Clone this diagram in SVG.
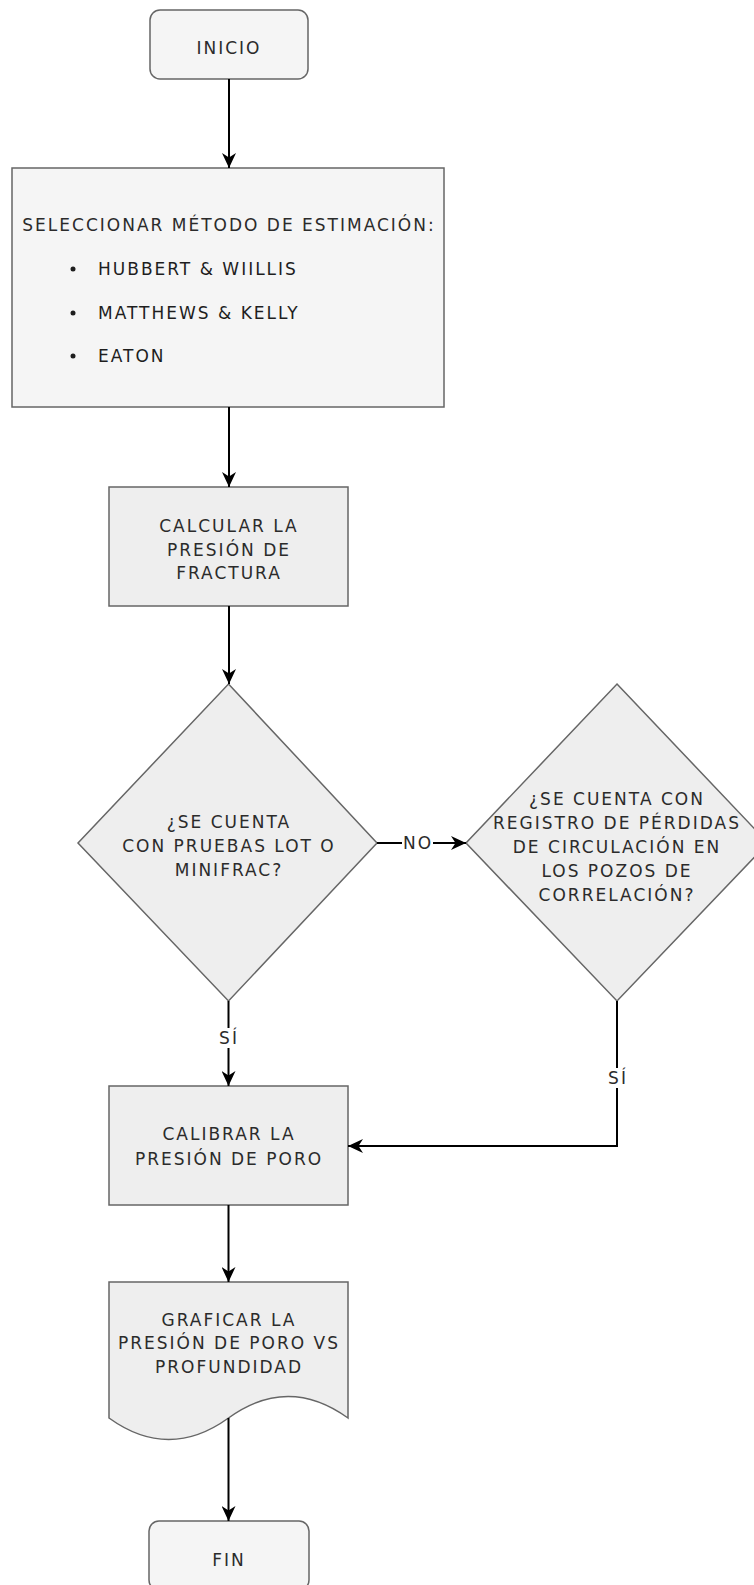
<svg xmlns="http://www.w3.org/2000/svg" width="754" height="1585" viewBox="0 0 754 1585">
<defs>
<marker id="arr" markerUnits="userSpaceOnUse" markerWidth="15" markerHeight="14" refX="15" refY="7" orient="auto">
<path d="M0,0 L15,7 L0,14 L4.5,7 Z" fill="#000"/>
</marker>
<style>
.node{stroke:#666;stroke-width:1.5}
.lt{fill:#f5f5f5}
.dk{fill:#eeeeee}
.t{font-family:"DejaVu Sans",Verdana,sans-serif;font-size:17px;letter-spacing:2px;fill:#2b2b2b;text-anchor:middle}
.tl{font-family:"DejaVu Sans",Verdana,sans-serif;font-size:17px;letter-spacing:2px;fill:#1e1e1e}
.edge{fill:none;stroke:#000;stroke-width:2}
.lbl{fill:#fff;stroke:none}
</style>
</defs>
<rect width="754" height="1585" fill="#fff"/>

<g id="inicio">
<rect class="node lt" x="150" y="10" width="158" height="69" rx="10"/>
<text class="t" x="229" y="54">INICIO</text>
</g>

<g id="seleccionar">
<rect class="node lt" x="12" y="168" width="432" height="239"/>
<text class="t" x="229" y="231">SELECCIONAR MÉTODO DE ESTIMACIÓN:</text>
<circle cx="73" cy="269" r="2.5" fill="#1e1e1e"/>
<text class="tl" x="98" y="275">HUBBERT &amp; WIILLIS</text>
<circle cx="73" cy="313" r="2.5" fill="#1e1e1e"/>
<text class="tl" x="98" y="319">MATTHEWS &amp; KELLY</text>
<circle cx="73" cy="356" r="2.5" fill="#1e1e1e"/>
<text class="tl" x="98" y="362">EATON</text>
</g>

<g id="calcular">
<rect class="node dk" x="109" y="487" width="239" height="119"/>
<text class="t" x="229" y="532">CALCULAR LA</text>
<text class="t" x="229" y="556">PRESIÓN DE</text>
<text class="t" x="229" y="579">FRACTURA</text>
</g>

<g id="decision1">
<polygon class="node dk" points="228.5,684 377,843 228.5,1001 78,843"/>
<text class="t" x="229" y="828">¿SE CUENTA</text>
<text class="t" x="229" y="852">CON PRUEBAS LOT O</text>
<text class="t" x="229" y="876">MINIFRAC?</text>
</g>

<g id="decision2">
<polygon class="node dk" points="617,684 768,843 617,1001 466,843"/>
<text class="t" x="617" y="805">¿SE CUENTA CON</text>
<text class="t" x="617" y="829">REGISTRO DE PÉRDIDAS</text>
<text class="t" x="617" y="853">DE CIRCULACIÓN EN</text>
<text class="t" x="617" y="877">LOS POZOS DE</text>
<text class="t" x="617" y="901">CORRELACIÓN?</text>
</g>

<g id="calibrar">
<rect class="node dk" x="109" y="1086" width="239" height="119"/>
<text class="t" x="229" y="1140">CALIBRAR LA</text>
<text class="t" x="229" y="1165">PRESIÓN DE PORO</text>
</g>

<g id="graficar">
<path class="node dk" d="M109,1282 H348 V1418 Q288,1375 228.5,1418 Q168.75,1461 109,1418 Z"/>
<text class="t" x="229" y="1326">GRAFICAR LA</text>
<text class="t" x="229" y="1349">PRESIÓN DE PORO VS</text>
<text class="t" x="229" y="1373">PROFUNDIDAD</text>
</g>

<g id="fin">
<rect class="node lt" x="149" y="1521" width="160" height="69" rx="10"/>
<text class="t" x="229" y="1566">FIN</text>
</g>

<g id="connectors">
<path class="edge" d="M229,79 V168" marker-end="url(#arr)"/>
<path class="edge" d="M229,407 V487" marker-end="url(#arr)"/>
<path class="edge" d="M229,606 V684" marker-end="url(#arr)"/>
<path class="edge" d="M377,843 H466" marker-end="url(#arr)"/>
<rect class="lbl" x="402" y="833" width="31" height="20"/>
<text class="t" x="418" y="849">NO</text>
<path class="edge" d="M228.5,1001 V1086" marker-end="url(#arr)"/>
<rect class="lbl" x="217" y="1028" width="23" height="20"/>
<text class="t" x="229" y="1044">SÍ</text>
<path class="edge" d="M617,1001 V1146 H348" marker-end="url(#arr)"/>
<rect class="lbl" x="606" y="1068" width="23" height="20"/>
<text class="t" x="618" y="1084">SÍ</text>
<path class="edge" d="M228.5,1205 V1282" marker-end="url(#arr)"/>
<path class="edge" d="M228.5,1418 V1521" marker-end="url(#arr)"/>
</g>
</svg>
